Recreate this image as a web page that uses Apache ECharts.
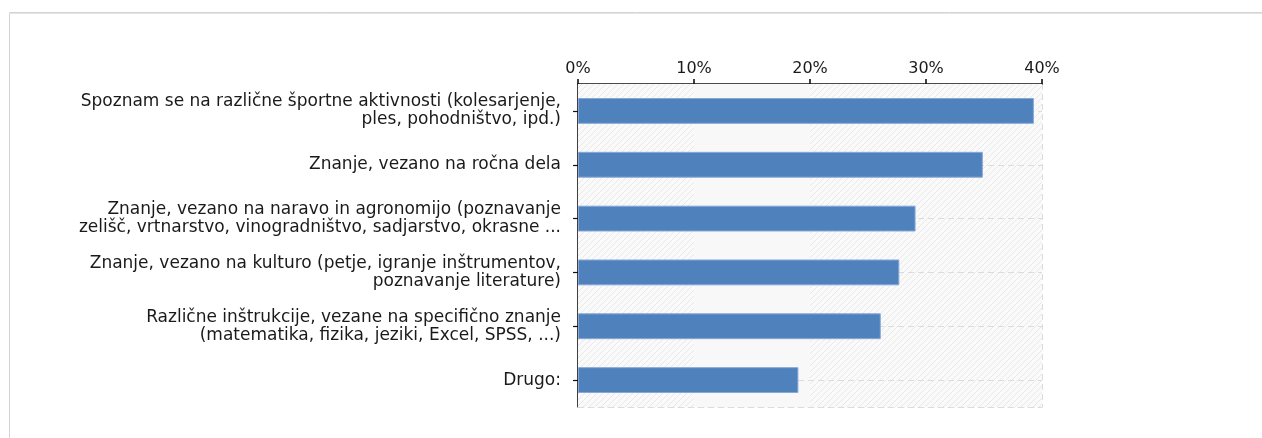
<!DOCTYPE html>
<html>
<head>
<meta charset="utf-8">
<script src="https://cdn.jsdelivr.net/npm/echarts@6/dist/echarts.min.js"></script>
<style>
html,body{margin:0;padding:0;background:#fff;}
#chart{width:1262px;height:438px;}
</style>
</head>
<body>
<div id="chart"></div>
<script>
const categories = [
  'Spoznam se na različne športne aktivnosti (kolesarjenje,\nples, pohodništvo, ipd.)',
  'Znanje, vezano na ročna dela',
  'Znanje, vezano na naravo in agronomijo (poznavanje\nzelišč, vrtnarstvo, vinogradništvo, sadjarstvo, okrasne ...',
  'Znanje, vezano na kulturo (petje, igranje inštrumentov,\npoznavanje literature)',
  'Različne inštrukcije, vezane na specifično znanje\n(matematika, fizika, jeziki, Excel, SPSS, ...)',
  'Drugo:'
];
const values = [39.3, 34.9, 29.1, 27.7, 26.1, 19.0];
const xTicks = [0, 10, 20, 30, 40];

// hatch pattern
const pc = document.createElement('canvas');
pc.width = 6; pc.height = 6;
const g = pc.getContext('2d');
g.fillStyle = '#fafafa';
g.fillRect(0, 0, 6, 6);
g.strokeStyle = '#e8e8e8';
g.lineWidth = 1;
g.beginPath();
g.moveTo(-1, 7); g.lineTo(7, -1);
g.moveTo(-1, 1); g.lineTo(1, -1);
g.moveTo(5, 7); g.lineTo(7, 5);
g.stroke();
const hatch = {image: pc, repeat: 'repeat'};

const chart = echarts.init(document.getElementById('chart'));
const font = 'DejaVu Sans';
chart.setOption({
  animation: false,
  textStyle: {fontFamily: font},
  graphic: [
    {type: 'rect', shape: {x: 9.5, y: 12.5, width: 1300, height: 500},
     style: {fill: 'none', stroke: '#d4d4d4', lineWidth: 1}, z: 0},
    {type: 'line', shape: {x1: 9, y1: 13.5, x2: 1262, y2: 13.5},
     style: {stroke: '#e4e4e4', lineWidth: 1}, z: 0}
  ],
  grid: {left: 578, right: 220, top: 84, bottom: 31, containLabel: false},
  xAxis: [{
    type: 'value', position: 'top', min: 0, max: 40, interval: 10,
    axisLine: {show: true, lineStyle: {color: '#111', width: 1.6}},
    axisTick: {show: true, length: 5, lineStyle: {color: '#111', width: 1.6}},
    axisLabel: {formatter: v => xTicks.includes(v) ? v + '%' : '', color: '#1a1a1a', fontSize: 16, margin: 7, fontFamily: font},
    splitLine: {show: true, lineStyle: {color: '#dcdcdc', type: [6, 4], width: 1}}
  }, {
    type: 'value', position: 'bottom', min: 0, max: 40, interval: 10,
    axisLine: {show: true, lineStyle: {color: '#dcdcdc', type: [6, 4], width: 1}},
    axisTick: {show: false}, axisLabel: {show: false}, splitLine: {show: false}
  }],
  yAxis: {
    type: 'category', data: categories, inverse: true,
    axisLine: {show: true, lineStyle: {color: '#111', width: 1.6}},
    axisTick: {show: true, alignWithLabel: true, length: 5, lineStyle: {color: '#111', width: 1.2}},
    axisLabel: {color: '#1a1a1a', fontSize: 17, lineHeight: 18, margin: 17, align: 'right', fontFamily: font},
    splitLine: {show: false}
  },
  series: [
    {
      type: 'line', data: [], z: 1, silent: true, xAxisIndex: 0,
      markArea: {
        silent: true, z: 1,
        data: [
          [{xAxis: 0, itemStyle: {color: hatch}}, {xAxis: 10}],
          [{xAxis: 10, itemStyle: {color: '#f8f8f8'}}, {xAxis: 20}],
          [{xAxis: 20, itemStyle: {color: hatch}}, {xAxis: 40}]
        ]
      },
      markLine: {
        silent: true, symbol: 'none', label: {show: false}, z: 1,
        lineStyle: {color: '#dcdcdc', type: [6, 4], width: 1},
        data: categories.map(c => ({yAxis: c}))
      }
    },
    {
      type: 'bar', data: values, z: 3, barWidth: '48%', xAxisIndex: 0,
      itemStyle: {color: '#4f81bd', borderColor: '#86a8d6', borderWidth: 1},
      label: {show: false}
    }
  ]
});
</script>
</body>
</html>
